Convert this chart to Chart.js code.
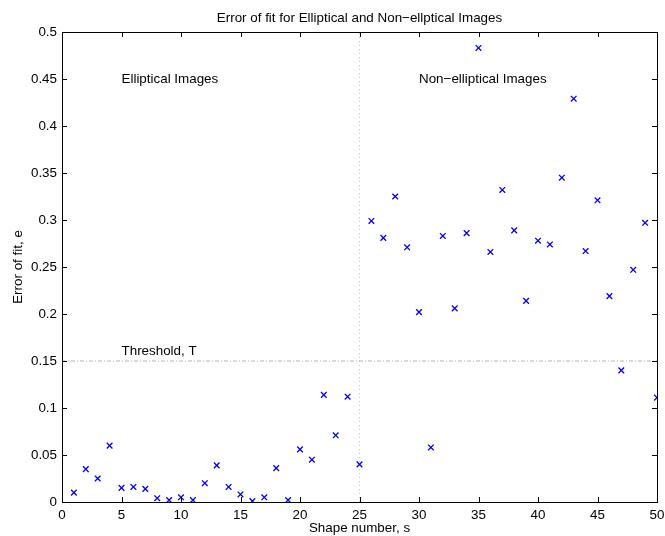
<!DOCTYPE html>
<html><head><meta charset="utf-8">
<script src="https://cdn.jsdelivr.net/npm/chart.js@4/dist/chart.umd.min.js"></script>
<style>html,body{margin:0;padding:0;background:#fff}#w{width:665px;height:536px}</style>
</head><body><div id="w"><canvas id="c"></canvas></div>
<script>
const shapeNumbers = Array.from({length: 50}, (_, i) => i + 1);
const errorOfFit = [0.010,0.035,0.025,0.060,0.015,0.016,0.014,0.004,0.002,0.005,
  0.002,0.020,0.039,0.016,0.008,0.001,0.005,0.036,0.002,0.056,
  0.045,0.114,0.071,0.112,0.040,0.299,0.281,0.325,0.271,0.202,
  0.058,0.283,0.206,0.286,0.483,0.266,0.332,0.289,0.214,0.278,
  0.274,0.345,0.429,0.267,0.321,0.219,0.140,0.247,0.297,0.111];
const thresholdT = 0.15;
const divideAt = 25;
const xTicks = [0,5,10,15,20,25,30,35,40,45,50];
const yTicks = [0,0.05,0.1,0.15,0.2,0.25,0.3,0.35,0.4,0.45,0.5];
const labels = [
  {text: 'Elliptical Images', x: 5, y: 0.45},
  {text: 'Non\u2212elliptical Images', x: 30, y: 0.45},
  {text: 'Threshold, T', x: 5, y: 0.16}
];
const FONT = '"Liberation Sans", Arial, Helvetica, sans-serif';
const FS = 13.4;

const points = shapeNumbers.map((s, i) => ({x: s, y: errorOfFit[i]}));

const deco = {
  id: 'deco',
  afterDraw(chart) {
    const ctx = chart.ctx, a = chart.chartArea;
    const xs = chart.scales.x, ys = chart.scales.y;
    ctx.save();
    ctx.strokeStyle = '#000'; ctx.lineWidth = 1;
    ctx.strokeRect(Math.round(a.left) + 0.5, Math.round(a.top) + 0.5, Math.round(a.right - a.left), Math.round(a.bottom - a.top));
    const L = 5;
    ctx.beginPath();
    xTicks.forEach(v => {
      const px = Math.round(xs.getPixelForValue(v)) + 0.5;
      ctx.moveTo(px, a.bottom); ctx.lineTo(px, a.bottom - L);
      ctx.moveTo(px, a.top); ctx.lineTo(px, a.top + L);
    });
    yTicks.forEach(v => {
      const py = Math.round(ys.getPixelForValue(v)) + 0.5;
      ctx.moveTo(a.left, py); ctx.lineTo(a.left + L, py);
      ctx.moveTo(a.right, py); ctx.lineTo(a.right - L, py);
    });
    ctx.stroke();
    ctx.fillStyle = '#000';
    ctx.font = FS + 'px ' + FONT;
    ctx.textBaseline = 'middle'; ctx.textAlign = 'left';
    labels.forEach(l => ctx.fillText(l.text, xs.getPixelForValue(l.x), ys.getPixelForValue(l.y)));
    ctx.textAlign = 'center';
    ctx.fillText('Error of fit for Elliptical and Non\u2212ellptical Images', (a.left + a.right) / 2, 18);
    ctx.restore();
  }
};

new Chart(document.getElementById('c'), {
  type: 'scatter',
  data: {
    datasets: [
      {data: points, pointStyle: 'crossRot', pointRadius: 4, pointBorderColor: '#0000ff', pointBackgroundColor: '#0000ff', pointBorderWidth: 1.3, showLine: false, order: 0},
      {type: 'line', data: [{x: 0, y: thresholdT}, {x: 50, y: thresholdT}], borderColor: '#b4b4b4', borderWidth: 1, borderDash: [4, 2, 1, 2], pointRadius: 0, order: 1},
      {type: 'line', data: [{x: divideAt, y: 0}, {x: divideAt, y: 0.5}], borderColor: '#c8c8c8', borderWidth: 1, borderDash: [1, 3], pointRadius: 0, order: 1}
    ]
  },
  options: {
    responsive: true, maintainAspectRatio: false, animation: false,
    layout: {padding: {top: 32, right: 8, left: 0, bottom: 0}},
    plugins: {legend: {display: false}, tooltip: {enabled: false}, title: {display: false}},
    scales: {
      x: {
        type: 'linear', min: 0, max: 50,
        afterBuildTicks: s => { s.ticks = xTicks.map(v => ({value: v})); },
        afterFit: s => { s.height = 34; s.paddingLeft = 0; s.paddingRight = 0; },
        grid: {display: false, drawTicks: false},
        border: {display: false},
        ticks: {color: '#000', font: {family: FONT, size: FS}, padding: 5, maxRotation: 0},
        title: {display: true, text: 'Shape number, s', color: '#000', font: {family: FONT, size: FS}, padding: {top: 0, bottom: 0}}
      },
      y: {
        type: 'linear', min: 0, max: 0.5,
        afterBuildTicks: s => { s.ticks = yTicks.map(v => ({value: v})); },
        afterFit: s => { s.width = 62; s.paddingTop = 0; s.paddingBottom = 0; },
        grid: {display: false, drawTicks: false},
        border: {display: false},
        ticks: {color: '#000', font: {family: FONT, size: FS}, padding: 5, callback: v => String(Number(v.toFixed(2)))},
        title: {display: true, text: 'Error of fit, e', color: '#000', font: {family: FONT, size: FS}, padding: {top: 10, bottom: 0}}
      }
    }
  },
  plugins: [deco]
});
</script></body></html>
